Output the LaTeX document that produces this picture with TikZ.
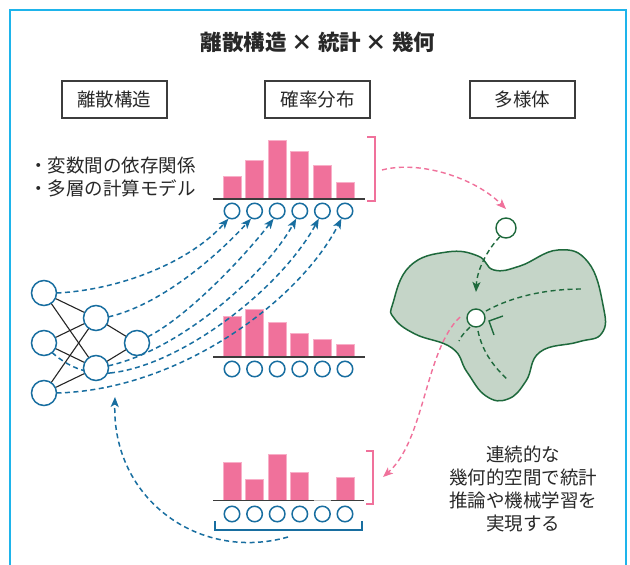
\documentclass[tikz,border=0pt]{standalone}
\usepackage{fontspec}
\setmainfont{Noto Sans CJK JP}
\usetikzlibrary{arrows.meta}
\definecolor{framec}{RGB}{30,180,235}
\definecolor{pinkc}{RGB}{240,113,155}
\definecolor{pinkl}{RGB}{248,175,200}
\definecolor{bluec}{RGB}{24,110,160}
\definecolor{greend}{RGB}{30,105,60}
\definecolor{greenf}{RGB}{197,213,200}
\definecolor{textc}{RGB}{40,40,40}
\definecolor{linec}{RGB}{60,60,60}
\tikzset{
  txt/.style={text=textc, inner sep=0pt, font=\fontsize{18.5}{22.7}\selectfont},
  labelbox/.style={draw=linec, line width=1.1pt, minimum width=105pt, minimum height=37pt, text=textc, font=\fontsize{18.5}{20}\selectfont},
  circ/.style={circle, draw=bluec, line width=1.5pt, fill=white, minimum size=15.5pt, inner sep=0pt},
  neuron/.style={circle, draw=bluec, line width=1.5pt, fill=white, minimum size=25pt, inner sep=0pt},
  bar/.style={fill=pinkc, draw=pinkl, line width=0.8pt},
  baseline/.style={draw=linec, line width=1.4pt},
  wire/.style={draw=black!85, line width=1.1pt},
  bluedash/.style={draw=bluec, line width=1.5pt, dash pattern=on 5pt off 3.5pt, -{Stealth[length=10pt,width=8pt,inset=2.5pt]}},
  pinkdash/.style={draw=pinkc, line width=1.4pt, dash pattern=on 5pt off 3.5pt, -{Stealth[length=10pt,width=8pt,inset=2.5pt]}},
  greendash/.style={draw=greend, line width=1.4pt, dash pattern=on 5pt off 3.5pt},
  pinkbracket/.style={draw=pinkc, line width=1.3pt},
  gpoint/.style={circle, draw=greend, line width=1.4pt, fill=white, inner sep=0pt},
}
\begin{document}
\begin{tikzpicture}[x=1pt,y=-1pt]
\useasboundingbox (0,0) rectangle (630,565);
\fill[white] (0,0) rectangle (630,565);
\draw[framec, line width=2.6pt] (10,10) rectangle (626,640);

% title and labels
\node[txt, font=\bfseries\fontsize{21.5}{24}\selectfont] (title) at (318,42) {離散構造 × 統計 × 幾何};
\node[labelbox] (b1) at (114.5,99.5) {離散構造};
\node[labelbox] (b2) at (317.5,99.5) {確率分布};
\node[labelbox] (b3) at (522.5,99.5) {多様体};
\node[txt, anchor=west, align=left] (bul) at (29,177) {・変数間の依存関係\\・多層の計算モデル};
\node[txt, align=center] (desc) at (523,489) {連続的な\\幾何的空間で統計\\推論や機械学習を\\実現する};

% histograms
\foreach \h [count=\i] in {176,160,140,151,165,182} {
  \fill[bar] ({223+22.6*(\i-1)},199) rectangle ++(18,{\h-199});
}
\draw[baseline] (213,199) -- (365,199);
\foreach \h [count=\i] in {316,309,322,333,339,344} {
  \fill[bar] ({223+22.6*(\i-1)},357) rectangle ++(18,{\h-357});
}
\draw[baseline] (213,357) -- (365,357);
\foreach \h/\i in {462/1,479/2,454/3,472/4,477/6} {
  \fill[bar] ({223+22.6*(\i-1)},500.5) rectangle ++(18,{\h-500.5});
}
\draw[baseline] (213,500.5) -- (314,500.5);
\draw[baseline] (331,500.5) -- (364,500.5);
\draw[black!25, line width=0.8pt] (314,500.5) -- (331,500.5);

% circles under histograms
\foreach \i in {1,...,6} {
  \node[circ] (t\i) at ({232+22.6*(\i-1)},211) {};
  \node[circ] (m\i) at ({232+22.6*(\i-1)},369) {};
  \node[circ] (u\i) at ({232+22.6*(\i-1)},514) {};
}

% brackets
\draw[pinkbracket] (367,137) -- (375,137) -- (375,201) -- (367,201);
\draw[pinkbracket] (366,451) -- (373,451) -- (373,504) -- (366,504);
\draw[draw=bluec, line width=1.5pt] (215,521) -- (215,530) -- (362,530) -- (362,521);

% network positions
\coordinate (i1) at (44,293);
\coordinate (i2) at (44,343);
\coordinate (i3) at (44,393);
\coordinate (h1) at (96,318);
\coordinate (h2) at (96,368);
\coordinate (o) at (137,343);
\foreach \a in {i1,i2,i3} { \foreach \b in {h1,h2} { \draw[wire] (\a) -- (\b); } }
\draw[wire] (h1) -- (o);
\draw[wire] (h2) -- (o);

% dashed curves from the network to the top circles
\coordinate (c5) at (110,373);
\draw[bluedash, -] ([shift={(-50:12.5pt)}]i2) .. controls (72,370) and (90,374) .. (c5);
\draw[bluedash] (c5) .. controls (180,366) and (280,290) .. (t5.-115);
\draw[bluedash] ([shift={(0:12.5pt)}]i1) .. controls (120,290) and (190,262) .. (t1.-115);
\draw[bluedash] ([shift={(5:12.5pt)}]h1) .. controls (160,305) and (215,258) .. (t2.-115);
\draw[bluedash] ([shift={(30:12.5pt)}]o) .. controls (185,318) and (240,262) .. (t3.-115);
\draw[bluedash] ([shift={(10:12.5pt)}]h2) .. controls (180,350) and (265,275) .. (t4.-115);
\draw[bluedash] ([shift={(0:12.5pt)}]i3) .. controls (180,390) and (300,300) .. (t6.-115);

% neurons on top
\node[neuron] (ni1) at (i1) {};
\node[neuron] (ni2) at (i2) {};
\node[neuron] (ni3) at (i3) {};
\node[neuron] (nh1) at (h1) {};
\node[neuron] (nh2) at (h2) {};
\node[neuron] (no) at (o) {};

% manifold
\draw[draw=greend, fill=greenf, line width=1.5pt] plot[smooth cycle, tension=0.75] coordinates {
 (393,303) (410,266) (447,252) (478,256) (494,270) (520,266) (558,250) (588,262)
 (603,305) (602,333) (578,342) (540,352) (526,381) (508,399) (486,396) (467,372)
 (452,348) (415,334) (394,318)};
\draw[greendash] (486,311) .. controls (515,295) and (550,289) .. (582,289);
\draw[greendash] (470,327) .. controls (465,332) and (461,336) .. (459,341);
\draw[greendash] (478,331) .. controls (482,350) and (492,365) .. (507,379);
\draw[draw=greend, line width=1.4pt] (503,316) -- (489,321) -- (494,335);
\node[gpoint, minimum size=18pt] (p) at (476,318) {};
\node[gpoint, minimum size=20pt] (sm) at (506,228) {};

% arrows around the manifold
\coordinate (bt) at (382,170);
\draw[pinkdash] (bt) .. controls (420,160) and (475,178) .. (506,209);
\draw[greendash, -{Stealth[length=10pt,width=8pt,inset=2.5pt]}] (sm.-125) .. controls (487,250) and (477,270) .. (476,292);
\coordinate (ms) at (460,317);
\coordinate (bb) at (383,477);
\draw[pinkdash] (ms) .. controls (425,350) and (425,440) .. (bb);

% arrow from the bottom row back to the network
\coordinate (bk) at (288,537);
\coordinate (nb) at (115,397);
\draw[bluedash] (bk) .. controls (200,562) and (112,500) .. (nb);
\end{tikzpicture}
\end{document}
